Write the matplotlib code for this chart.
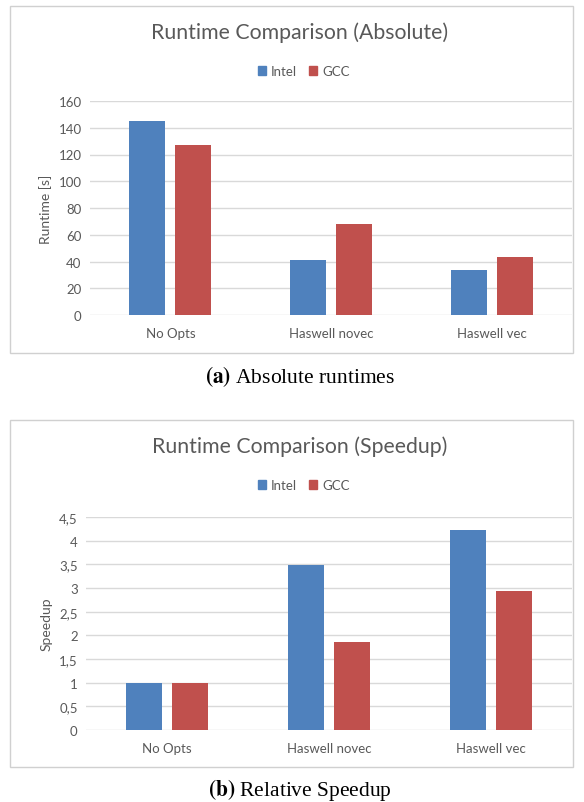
import matplotlib
matplotlib.use("Agg")
import matplotlib.pyplot as plt
from matplotlib.patches import Rectangle, Patch

# data
categories = ["No Opts", "Haswell novec", "Haswell vec"]
runtime_intel = [145, 41, 34]
runtime_gcc = [127, 68, 43]
speedup_intel = [1.0, 3.49, 4.22]
speedup_gcc = [1.0, 1.86, 2.93]

W, H = 584, 803
BLUE = "#4F81BD"
RED = "#C0504D"
TXT = "#595959"
GRID = "#D9D9D9"

plt.rcParams["font.family"] = ["Lato", "DejaVu Sans"]
plt.rcParams["mathtext.fontset"] = "stix"

fig = plt.figure(figsize=(W / 100, H / 100), dpi=100)


def px_axes(x0, y0, x1, y1):
    # pixel box (top-left origin) -> figure fraction
    return fig.add_axes([x0 / W, 1 - y1 / H, (x1 - x0) / W, (y1 - y0) / H])


def panel(box, area, title, title_y, legend_y, intel, gcc, ymax, step, ylabel, comma, caption, caption_y):
    bx0, by0, bx1, by1 = box
    fig.patches.append(Rectangle((bx0 / W, 1 - by1 / H), (bx1 - bx0) / W, (by1 - by0) / H,
                                 transform=fig.transFigure, fill=False, edgecolor="#D0D0D0", lw=1))
    ax = px_axes(*area)
    x = range(len(categories))
    bw = 0.225
    off = 0.143
    ax.bar([i - off for i in x], intel, width=bw, color=BLUE, zorder=3, label="Intel")
    ax.bar([i + off for i in x], gcc, width=bw, color=RED, zorder=3, label="GCC")
    ax.set_xlim(-0.5, len(categories) - 0.5)
    ax.set_ylim(0, ymax)
    ticks = [step * k for k in range(int(round(ymax / step)) + 1)]
    ax.set_yticks(ticks)
    if comma:
        labs = [("%g" % t).replace(".", ",") for t in ticks]
    else:
        labs = ["%d" % t for t in ticks]
    ax.set_yticklabels(labs)
    ax.set_xticks(list(x))
    ax.set_xticklabels(categories)
    ax.tick_params(length=0, labelsize=9.5, colors=TXT, pad=6)
    ax.tick_params(axis="x", pad=9)
    ax.yaxis.grid(True, color=GRID, lw=1, zorder=0)
    for s in ax.spines.values():
        s.set_visible(False)
    ax.set_ylabel(ylabel, color=TXT, fontsize=10, labelpad=5)
    fig.text(300 / W, 1 - title_y / H, title, ha="center", va="center", fontsize=15.3, color=TXT)
    handles = [Patch(color=BLUE, label="Intel"), Patch(color=RED, label="GCC")]
    fig.legend(handles=handles, loc="center", bbox_to_anchor=(304 / W, 1 - legend_y / H), ncol=2,
               frameon=False, fontsize=9.5, labelcolor=TXT, handlelength=0.6, handleheight=0.6,
               handletextpad=0.4, columnspacing=0.9)
    fig.text(300 / W, 1 - caption_y / H, caption, ha="center", va="center", fontsize=15.5,
             family=["Liberation Serif", "DejaVu Serif"])
    return ax


panel((10, 7, 573, 354), (90, 102, 572, 316), "Runtime Comparison (Absolute)", 33, 72,
      runtime_intel, runtime_gcc, 160, 20, "Runtime [s]", False, r"$\mathbf{(a)}$ Absolute runtimes", 377)
panel((10, 421, 573, 768), (86, 518, 572, 731), "Runtime Comparison (Speedup)", 447, 486,
      speedup_intel, speedup_gcc, 4.5, 0.5, "Speedup", True, r"$\mathbf{(b)}$ Relative Speedup", 790)

fig.savefig("out.png", dpi=100)
